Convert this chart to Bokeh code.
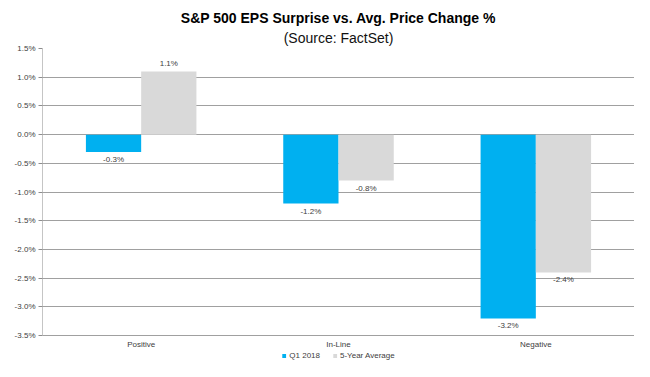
from bokeh.plotting import figure
from bokeh.models import (ColumnDataSource, FactorRange, Range1d, PrintfTickFormatter,
                          Legend, LegendItem, Title, FixedTicker)
from bokeh.transform import dodge
from bokeh.core.properties import value
from bokeh.embed import file_html
from bokeh.resources import INLINE

categories = ["Positive", "In-Line", "Negative"]
q1_2018 = [-0.3, -1.2, -3.2]
five_year_avg = [1.1, -0.8, -2.4]
y_ticks = [-3.5, -3.0, -2.5, -2.0, -1.5, -1.0, -0.5, 0.0, 0.5, 1.0, 1.5]

FONT = "Liberation Sans"
BLUE = "#00B0F0"
GRAY = "#D9D9D9"
AXIS = "#8c8c8c"

y_min, y_max = y_ticks[0], y_ticks[-1]

src = ColumnDataSource(dict(cat=categories, q1=q1_2018, avg=five_year_avg,
                            base=[y_min] * len(categories)))

p = figure(x_range=FactorRange(*categories), y_range=Range1d(-3.95, y_max),
           width=634, height=361, output_backend="svg", toolbar_location=None,
           min_border_left=42, min_border_right=0, min_border_top=48, min_border_bottom=0)

p.title.text = "S&P 500 EPS Surprise vs. Avg. Price Change %"
p.title.align = "center"
p.title.text_font = FONT
p.title.text_font_size = "14px"
p.title.text_font_style = "bold"
p.title.text_color = "#000000"
p.title.standoff = 0
sub = Title(text="(Source: FactSet)", align="center", text_font=FONT,
            text_font_size="14px", text_font_style="normal", text_color="#111111",
            standoff=5)
p.add_layout(sub, "above")

r1 = p.vbar(x=dodge("cat", -0.14, range=p.x_range), top="q1", width=0.28, source=src,
            color=BLUE, line_color=None)
r2 = p.vbar(x=dodge("cat", 0.14, range=p.x_range), top="avg", width=0.28, source=src,
            color=GRAY, line_color=None)

def label_source(vals, positive):
    keep = [(c, v) for c, v in zip(categories, vals) if (v >= 0) == positive]
    return ColumnDataSource(dict(cat=[c for c, _ in keep], v=[v for _, v in keep],
                                 t=[f"{v:.1f}%" for _, v in keep]))

for vals, off in [(q1_2018, -0.14), (five_year_avg, 0.14)]:
    p.text(x=dodge("cat", off, range=p.x_range), y="v", text="t", source=label_source(vals, False),
           text_font=value(FONT), text_font_size="8px", text_color="#404040",
           text_align="center", text_baseline="top", y_offset=3)
    p.text(x=dodge("cat", off, range=p.x_range), y="v", text="t", source=label_source(vals, True),
           text_font=value(FONT), text_font_size="8px", text_color="#404040",
           text_align="center", text_baseline="bottom", y_offset=-3)

# category labels (drawn under the bottom gridline, which acts as the x axis)
p.text(x="cat", y="base", text="cat", source=src, text_font=value(FONT),
       text_font_size="8px", text_color="#404040", text_align="center",
       text_baseline="top", y_offset=4)

# y axis
p.yaxis.ticker = FixedTicker(ticks=y_ticks)
p.yaxis.formatter = PrintfTickFormatter(format="%.1f%%")
p.yaxis.major_label_text_font = FONT
p.yaxis.major_label_text_font_size = "8px"
p.yaxis.major_label_text_color = "#404040"
p.yaxis.axis_line_color = None
p.yaxis.major_tick_line_color = AXIS
p.yaxis.major_tick_in = 0
p.yaxis.major_tick_out = 4
p.yaxis.minor_tick_line_color = None
p.yaxis.major_label_standoff = 3
# visible part of the y axis line: from the lowest to the highest tick
p.segment(x0=[0], x1=[0], y0=[y_min], y1=[y_max], line_color=AXIS, line_width=1)

p.xaxis.visible = False
p.xgrid.grid_line_color = None
p.ygrid.grid_line_color = "#a0a0a0"
p.ygrid.ticker = FixedTicker(ticks=y_ticks)
p.outline_line_color = None
p.x_range.range_padding = 0

legend = Legend(items=[LegendItem(label="Q1 2018", renderers=[r1]),
                       LegendItem(label="5-Year Average", renderers=[r2])],
                orientation="horizontal", location="bottom_center",
                label_text_font=FONT, label_text_font_size="8px", label_text_color="#404040",
                glyph_width=5, glyph_height=5, label_standoff=3, spacing=12,
                padding=0, margin=1, border_line_color=None, background_fill_alpha=0,
                label_height=8)
p.add_layout(legend, "center")

open("out.html", "w").write(file_html(p, INLINE))
